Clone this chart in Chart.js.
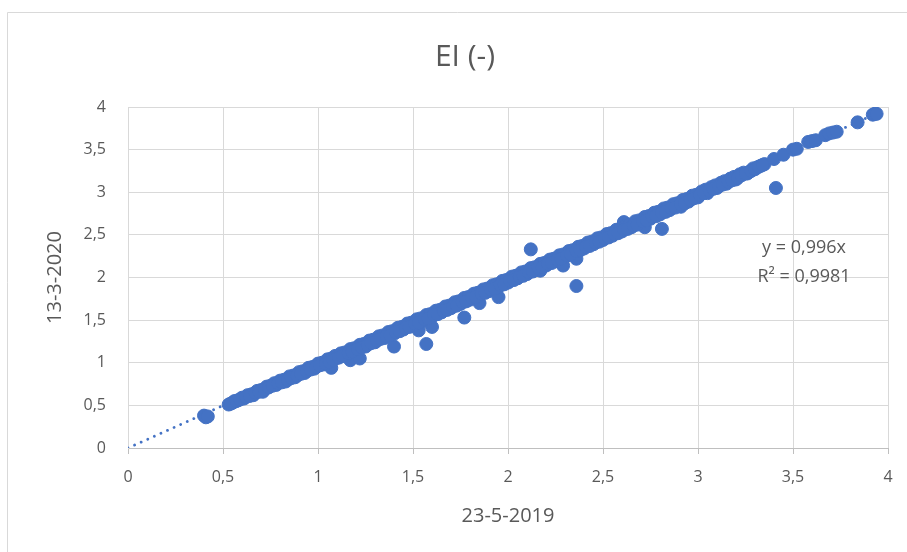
<!DOCTYPE html>
<html>
<head>
<meta charset="utf-8">
<script src="https://cdn.jsdelivr.net/npm/chart.js@4/dist/chart.umd.min.js"></script>
<style>html,body{margin:0;padding:0;background:#fff}canvas{display:block}</style>
</head>
<body>
<canvas id="c" width="907" height="552"></canvas>
<script>
const chartTitle = 'EI (-)';
const xAxisTitle = '23-5-2019';
const yAxisTitle = '13-3-2020';
const trendLabel = ['y = 0,996x', 'R² = 0,9981'];
const axisTicks = [0, 0.5, 1, 1.5, 2, 2.5, 3, 3.5, 4];

// EI on 23-5-2019 (x) and on 13-3-2020 (y)
const ei2019 = [
  0.40,0.41,0.42,
  0.53,0.55,0.56,0.58,0.60,0.61,0.63,0.65,0.66,0.68,0.70,0.71,0.73,0.75,0.77,0.78,0.80,0.82,0.83,0.85,0.87,0.88,0.90,0.92,0.93,0.95,0.97,0.98,1.00,
  1.02,1.03,1.05,1.07,1.07,1.09,1.10,1.12,1.14,1.15,1.17,1.17,1.19,1.20,1.22,1.22,1.24,1.25,1.27,1.29,1.30,1.32,1.34,1.35,1.37,1.39,1.40,1.40,
  1.42,1.44,1.45,1.47,1.49,1.50,1.52,1.53,1.54,1.55,1.57,1.57,1.59,1.60,1.60,1.62,1.64,1.65,1.67,1.69,1.70,1.72,1.74,1.75,1.77,1.77,1.79,1.80,
  1.82,1.84,1.85,1.85,1.87,1.89,1.90,1.92,1.94,1.95,1.95,1.97,1.99,2.00,2.02,2.04,2.05,2.07,2.09,2.10,2.12,2.12,2.14,2.15,2.17,2.17,2.19,2.20,
  2.22,2.24,2.25,2.27,2.29,2.29,2.30,2.32,2.34,2.35,2.36,2.36,2.37,2.39,2.40,2.42,2.44,2.45,2.47,2.49,2.50,2.52,2.54,2.55,2.57,2.59,2.60,2.61,
  2.62,2.64,2.65,2.67,2.69,2.70,2.72,2.72,2.74,2.75,2.77,2.79,2.80,2.81,2.82,2.84,2.85,2.87,2.89,2.90,2.91,2.92,2.94,2.95,2.97,2.99,3.00,
  3.02,3.04,3.05,3.07,3.09,3.10,3.12,3.14,3.15,3.17,3.19,3.20,3.22,3.24,3.26,3.27,3.29,3.31,3.33,3.35,
  3.40,3.41,3.45,3.50,3.52,3.58,3.60,3.62,3.67,3.69,3.71,3.73,3.84,3.92,3.93,3.94,
  0.54,0.57,0.59,0.62,0.64,0.67,0.69,0.72,0.74,0.76,0.79,0.81,0.84,0.86,0.89,0.91,0.94,0.96,0.99,1.01,1.04,1.06,1.08,1.11,1.13,1.16,1.18,1.21,
  1.23,1.26,1.28,1.31,1.33,1.36,1.38,1.41,1.43,1.46,1.48,1.51,1.53,1.56,1.58,1.61,1.63,1.66,1.68,1.71,1.73,1.76,1.78,1.81,1.83,1.86,1.88,1.91,
  1.93,1.96,1.98,2.01,2.03,2.06,2.08,2.11,2.13,2.16,2.18,2.21,2.23,2.26,2.28,2.31,2.33,2.36,2.38,2.41,2.43,2.46,2.48,2.51,2.53,2.56,2.58,2.61,
  2.63,2.66,2.68,2.71,2.73,2.76,2.78,2.81,2.83,2.86,2.88,2.91,2.93,2.96,2.98,3.01,3.03,3.06,3.08,3.11,3.13,3.16,3.18,3.21,3.23,3.25,3.28,3.30,
  3.32,3.34
];
const ei2020 = [
  0.38,0.36,0.37,
  0.51,0.53,0.55,0.56,0.59,0.58,0.62,0.63,0.62,0.67,0.68,0.66,0.72,0.73,0.76,0.74,0.79,0.80,0.78,0.84,0.85,0.83,0.89,0.90,0.88,0.94,0.95,0.93,0.99,
  1.00,0.98,1.04,0.94,1.05,1.08,1.06,1.11,1.12,1.10,1.03,1.16,1.17,1.15,1.05,1.21,1.22,1.19,1.26,1.27,1.24,1.31,1.32,1.29,1.36,1.37,1.19,1.34,
  1.41,1.42,1.39,1.46,1.47,1.44,1.51,1.38,1.52,1.49,1.22,1.56,1.57,1.42,1.54,1.61,1.62,1.59,1.66,1.67,1.64,1.71,1.72,1.69,1.53,1.76,1.77,1.74,
  1.81,1.82,1.70,1.79,1.86,1.87,1.84,1.91,1.92,1.77,1.89,1.96,1.97,1.94,2.01,2.02,1.99,2.06,2.07,2.04,2.33,2.11,2.12,2.09,2.08,2.16,2.17,2.14,
  2.21,2.22,2.19,2.26,2.14,2.27,2.24,2.31,2.32,2.29,1.90,2.22,2.36,2.37,2.34,2.41,2.42,2.39,2.46,2.47,2.44,2.51,2.52,2.49,2.56,2.57,2.54,2.65,
  2.61,2.62,2.59,2.66,2.67,2.64,2.59,2.71,2.72,2.69,2.76,2.77,2.74,2.57,2.81,2.82,2.79,2.86,2.87,2.84,2.83,2.91,2.92,2.89,2.96,2.97,2.94,
  3.01,3.03,2.99,3.06,3.08,3.05,3.11,3.13,3.10,3.16,3.18,3.15,3.21,3.23,3.22,3.24,3.28,3.29,3.31,3.33,
  3.39,3.05,3.44,3.50,3.51,3.59,3.60,3.61,3.67,3.69,3.70,3.71,3.82,3.91,3.92,3.92,
  0.52,0.55,0.57,0.60,0.61,0.65,0.66,0.69,0.71,0.73,0.76,0.77,0.80,0.82,0.85,0.87,0.90,0.92,0.95,0.97,0.99,1.01,1.03,1.06,1.08,1.11,1.13,1.16,
  1.18,1.21,1.23,1.26,1.28,1.31,1.32,1.36,1.37,1.41,1.42,1.46,1.47,1.51,1.52,1.56,1.57,1.61,1.62,1.66,1.67,1.71,1.72,1.76,1.77,1.81,1.82,1.86,
  1.87,1.91,1.92,1.96,1.97,2.01,2.02,2.06,2.07,2.11,2.12,2.16,2.17,2.21,2.22,2.26,2.27,2.31,2.32,2.36,2.37,2.41,2.42,2.46,2.47,2.51,2.52,2.56,
  2.57,2.61,2.62,2.66,2.67,2.71,2.72,2.76,2.77,2.81,2.82,2.86,2.87,2.91,2.93,2.97,2.99,3.02,3.04,3.07,3.09,3.12,3.14,3.17,3.20,3.22,3.25,3.27,
  3.30,3.32
];
// linear trendline through origin, y = 0,996x
const trendX = [0, 3.97];
const trendY = [0, 3.954];

const blue = '#4472C4';
const textGrey = '#595959';
const gridGrey = '#d9d9d9';
const fontFamily = '"Open Sans", "Liberation Sans", sans-serif';

const pts = ei2019.map((x, i) => ({x: x, y: ei2020[i]}));
const trend = trendX.map((x, i) => ({x: x, y: trendY[i]}));
const fmt = v => String(v).replace('.', ',');

const decor = {
  id: 'decor',
  beforeDraw(chart) {
    const ctx = chart.ctx;
    ctx.save();
    ctx.fillStyle = '#fff';
    ctx.fillRect(0, 0, chart.width, chart.height);
    ctx.strokeStyle = gridGrey;
    ctx.lineWidth = 1;
    ctx.beginPath();
    ctx.moveTo(7.5, chart.height);
    ctx.lineTo(7.5, 12.5);
    ctx.lineTo(chart.width, 12.5);
    ctx.stroke();
    ctx.restore();
  },
  afterDraw(chart) {
    const ctx = chart.ctx;
    ctx.save();
    ctx.fillStyle = textGrey;
    ctx.textAlign = 'center';
    ctx.textBaseline = 'middle';
    ctx.font = '30px ' + fontFamily;
    ctx.fillText(chartTitle, 465, 57);
    ctx.font = '18px ' + fontFamily;
    ctx.fillText(trendLabel[0], 804, 248);
    ctx.fillText(trendLabel[1], 804, 277);
    ctx.restore();
  }
};

new Chart(document.getElementById('c'), {
  type: 'scatter',
  data: {
    datasets: [
      {
        label: 'EI',
        data: pts,
        pointRadius: 6.5,
        pointHoverRadius: 6.5,
        pointBorderWidth: 1,
        pointBackgroundColor: blue,
        pointBorderColor: blue,
        showLine: false
      },
      {
        label: 'Trendline',
        data: trend,
        showLine: true,
        pointRadius: 0,
        borderColor: blue,
        borderWidth: 2.8,
        borderDash: [0.01, 7.2],
        borderCapStyle: 'round',
        fill: false
      }
    ]
  },
  options: {
    responsive: false,
    devicePixelRatio: 1,
    animation: false,
    events: [],
    layout: {padding: {left: 20, top: 107, right: 19, bottom: 10}},
    plugins: {legend: {display: false}, title: {display: false}, tooltip: {enabled: false}},
    scales: {
      x: {
        type: 'linear',
        min: 0, max: 4,
        afterFit: s => { s.height = 94; },
        afterBuildTicks: s => { s.ticks = axisTicks.map(v => ({value: v})); },
        ticks: {callback: fmt, color: textGrey, padding: 14, font: {family: fontFamily, size: 16}, maxRotation: 0},
        grid: {color: gridGrey, lineWidth: 1, drawTicks: true, tickLength: 6, tickColor: '#bfbfbf'},
        border: {color: '#bfbfbf', width: 1},
        title: {display: true, text: xAxisTitle, color: textGrey, font: {family: fontFamily, size: 20}, padding: {top: 0, bottom: 14}}
      },
      y: {
        type: 'linear',
        min: 0, max: 4,
        afterFit: s => { s.width = 108; },
        afterBuildTicks: s => { s.ticks = axisTicks.map(v => ({value: v})); },
        ticks: {callback: fmt, color: textGrey, padding: 22, font: {family: fontFamily, size: 16}},
        grid: {color: gridGrey, lineWidth: 1, drawTicks: false},
        border: {color: gridGrey, width: 1},
        title: {display: true, text: yAxisTitle, color: textGrey, font: {family: fontFamily, size: 20}, padding: {top: 23, bottom: 0}}
      }
    }
  },
  plugins: [decor]
});
</script>
</body>
</html>
